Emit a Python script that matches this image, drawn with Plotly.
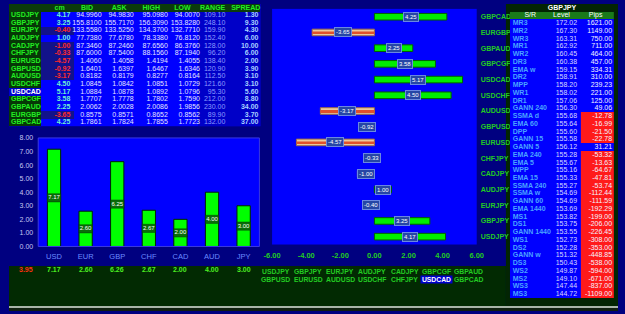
import plotly.graph_objects as go

W, H = 625, 314

# ---------------- data ----------------
symbols = ["USDJPY", "GBPJPY", "EURJPY", "AUDJPY", "CADJPY", "CHFJPY", "EURUSD", "GBPUSD",
           "AUDUSD", "USDCHF", "USDCAD", "GBPCGF", "GBPAUD", "EURGBP", "GBPCAD"]
cm = [4.17, 3.25, -0.40, 1.00, -1.00, -0.33, -4.57, -0.92, -3.17, 4.50, 5.17, 3.58, 2.25, -3.65, 4.25]
bid = [94.9960, 155.8100, 133.5580, 77.7380, 87.3460, 87.6000, 1.4060, 1.6401, 0.8182, 1.0845,
       1.0884, 1.7707, 2.0062, 0.8575, 1.7861]
ask = [94.9830, 155.7170, 133.5250, 77.6780, 87.2460, 87.5400, 1.4058, 1.6397, 0.8179, 1.0842,
       1.0878, 1.7778, 2.0028, 0.8571, 1.7824]
high = [95.0980, 156.3090, 134.3700, 78.3380, 87.6560, 88.1560, 1.4194, 1.6467, 0.8277, 1.0851,
        1.0892, 1.7802, 2.0086, 0.8652, 1.7855]
low = [94.0070, 153.8280, 132.7710, 76.8120, 86.3760, 87.1940, 1.4055, 1.6346, 0.8164, 1.0729,
       1.0796, 1.7590, 1.9856, 0.8562, 1.7723]
rng = [109.10, 248.10, 159.90, 152.40, 128.00, 96.20, 138.40, 120.90, 112.50, 121.60, 95.30,
       212.00, 230.00, 89.90, 132.00]
spread = [1.30, 9.30, 4.30, 6.00, 10.00, 6.00, 2.00, 3.90, 3.10, 3.10, 5.60, 8.80, 34.00, 3.70, 37.00]
table_headers = ["cm", "BID", "ASK", "HIGH", "LOW", "RANGE", "SPREAD"]
selected = "USDCAD"

currencies = ["USD", "EUR", "GBP", "CHF", "CAD", "AUD", "JPY"]
strength = [7.17, 2.60, 6.25, 2.67, 2.00, 4.00, 3.00]
strength_row = [7.17, 2.60, 6.26, 2.67, 2.00, 4.00, 3.00]
strength_total = 3.95
bar_ticks = [0, 1, 2, 3, 4, 5, 6, 7, 8]
bar_ticktext = ["0.00", "1.00", "2.00", "3.00", "4.00", "5.00", "6.00", "7.00", "8.00"]

mid_ticks = [-6, -4, -2, 0, 2, 4, 6]
mid_ticktext = ["-6.00", "-4.00", "-2.00", "0.00", "2.00", "4.00", "6.00"]

footer_row1 = ["USDJPY", "GBPJPY", "EURJPY", "AUDJPY", "CADJPY", "GBPCGF", "GBPAUD"]
footer_row2 = ["GBPUSD", "EURUSD", "AUDUSD", "USDCHF", "CHFJPY", "USDCAD", "GBPCAD"]

sr_symbol = "GBPJPY"
sr_headers = ["S/R", "Level", "Pips"]
sr_names = ["MR3", "MR2", "WR3", "MR1", "WR2", "DR3", "EMA w", "DR2", "MPP", "WR1", "DR1", "GANN 240",
            "SSMA d", "EMA 60", "DPP", "GANN 15", "GANN 5", "EMA 240", "EMA 5", "WPP", "EMA 15",
            "SSMA 240", "SSMA w", "GANN 60", "EMA 1440", "MS1", "DS1", "GANN 1440", "WS1", "DS2",
            "GANN w", "DS3", "WS2", "MS2", "WS3", "MS3"]
sr_levels = [172.02, 167.30, 163.31, 162.92, 160.45, 160.38, 159.15, 158.91, 158.20, 158.02, 157.06,
             156.30, 155.68, 155.64, 155.60, 155.58, 156.12, 155.28, 155.67, 155.16, 155.33, 155.27,
             154.69, 154.69, 153.69, 153.82, 153.75, 153.55, 152.73, 152.28, 151.32, 150.43, 149.87,
             149.10, 147.44, 144.72]
sr_pips = [1621.00, 1149.00, 750.00, 711.00, 464.00, 457.00, 334.31, 310.00, 239.23, 221.00, 125.00,
           49.06, -12.78, -16.99, -21.50, -22.78, 31.21, -53.32, -13.63, -64.67, -47.81, -53.74,
           -112.44, -111.59, -192.29, -199.00, -206.00, -226.45, -308.00, -353.00, -448.85, -538.00,
           -594.00, -671.00, -837.00, -1109.00]

# ---------------- helpers ----------------
FONT = "Liberation Sans, Arial, sans-serif"
NAVY = "#000080"
BLUE = "#0000ff"
FOOT = "#022a02"


def fx(px):
    return px / W


def fy(py):
    return 1 - py / H


def discrete_scale(colors):
    n = len(colors)
    sc = []
    for i, c in enumerate(colors):
        sc.append([i / n, c])
        sc.append([(i + 1) / n, c])
    return sc


fig = go.Figure()

# ---------------- left quote table ----------------
lt_colors = ["#0b3b0b", "#063806", "#0000ff", "#12128a", "#0000c8", "#0000d0"]
lt_edges = [0, 33, 67, 194, 258]
z_left = [[0, 0, 0, 0]]
for s, v in zip(symbols, cm):
    z_left.append([5 if s == selected else 1, 2 if v >= 0 else 3, 2, 4])
rows_idx = list(range(len(symbols) + 1))
fig.add_trace(go.Heatmap(z=z_left, x=lt_edges, y=rows_idx, colorscale=discrete_scale(lt_colors),
                         zmin=-0.5, zmax=len(lt_colors) - 0.5, showscale=False, hoverinfo="skip",
                         xaxis="x3", yaxis="y3"))

data_rows = rows_idx[1:]
hdr_x = [52, 80, 113, 146, 178, 209, 243]
fig.add_trace(go.Scatter(x=hdr_x, y=[0] * len(table_headers), text=table_headers, mode="text",
                         textposition="middle center",
                         textfont=dict(family=FONT, size=7, color="#22ee22", weight="bold"),
                         xaxis="x3", yaxis="y3", hoverinfo="skip", cliponaxis=False))
fig.add_trace(go.Scatter(x=[2] * len(symbols), y=data_rows, text=symbols, mode="text",
                         textposition="middle right",
                         textfont=dict(family=FONT, size=7, weight="bold",
                                       color=["#ffffff" if s == selected else "#22ee22" for s in symbols]),
                         xaxis="x3", yaxis="y3", hoverinfo="skip", cliponaxis=False))
cols = [
    (63, [f"{v:.2f}" for v in cm], ["#70f0d0" if v >= 0 else "#ff2a2a" for v in cm], "bold"),
    (95, [f"{v:.4f}" for v in bid], "#e4e4ff", "normal"),
    (128, [f"{v:.4f}" for v in ask], "#e4e4ff", "normal"),
    (163, [f"{v:.4f}" for v in high], "#e4e4ff", "normal"),
    (196, [f"{v:.4f}" for v in low], "#e4e4ff", "normal"),
    (222, [f"{v:.2f}" for v in rng], "#8c9cff", "normal"),
    (256, [f"{v:.2f}" for v in spread], "#a8d0ff", "bold"),
]
for xr, txt, col, wt in cols:
    fig.add_trace(go.Scatter(x=[xr] * len(txt), y=data_rows, text=txt, mode="text",
                             textposition="middle left",
                             textfont=dict(family=FONT, size=7, color=col, weight=wt),
                             xaxis="x3", yaxis="y3", hoverinfo="skip", cliponaxis=False))

# ---------------- currency strength bars ----------------
BAND = 0.6
fig.add_trace(go.Bar(x=currencies, y=strength, width=0.42,
                     marker=dict(color="#00ff00", line=dict(color="#002200", width=1)),
                     xaxis="x", yaxis="y", hoverinfo="skip"))
fig.add_trace(go.Bar(x=currencies, y=[BAND] * len(strength), base=[v / 2 - BAND / 2 for v in strength],
                     width=0.42, marker=dict(color="#0a6e0a", line=dict(color="#044004", width=0.5)),
                     xaxis="x", yaxis="y", hoverinfo="skip"))
fig.add_trace(go.Scatter(x=currencies, y=[v / 2 for v in strength], text=[f"{v:.2f}" for v in strength],
                         mode="text", textposition="middle center",
                         textfont=dict(family=FONT, size=6, color="#ffffff"),
                         xaxis="x", yaxis="y", hoverinfo="skip"))

# ---------------- pair strength horizontal bars ----------------
fig.add_trace(go.Bar(y=symbols, x=cm, orientation="h", width=0.42,
                     marker=dict(color=["#00ee00" if v >= 0 else "#ecc89a" for v in cm],
                                 line=dict(color=["#006000" if v >= 0 else "#9a6a4a" for v in cm], width=1)),
                     xaxis="x2", yaxis="y2", hoverinfo="skip"))
fig.add_trace(go.Bar(y=symbols, x=[v if v < 0 else None for v in cm], orientation="h", width=0.12,
                     marker=dict(color="#e0502c", line=dict(width=0)),
                     xaxis="x2", yaxis="y2", hoverinfo="skip"))

annotations = []
for s, v in zip(symbols, cm):
    annotations.append(dict(x=v / 2, y=s, xref="x2", yref="y2", text=f"{v:.2f}", showarrow=False,
                            xanchor="center", yanchor="middle",
                            font=dict(family=FONT, size=6, color="#ffffff"),
                            bgcolor="#2646a6", bordercolor="#6a88e0", borderwidth=1, borderpad=1))

# ---------------- S/R table ----------------
sr_colors = ["#032503", "#1a7a1a", "#0000ff", "#ff1a1a"]
sr_edges = [514, 587, 621]
z_sr = [[0, 0], [1, 1]] + [[2, 2 if p >= 0 else 3] for p in sr_pips]
sr_rows = list(range(len(sr_names) + 2))
fig.add_trace(go.Heatmap(z=z_sr, x=sr_edges, y=sr_rows, colorscale=discrete_scale(sr_colors),
                         zmin=-0.5, zmax=len(sr_colors) - 0.5, showscale=False, hoverinfo="skip",
                         xaxis="x4", yaxis="y4"))
fig.add_trace(go.Scatter(x=[567.5], y=[0], text=[sr_symbol], mode="text", textposition="middle center",
                         textfont=dict(family=FONT, size=7, color="#ffffff", weight="bold"),
                         xaxis="x4", yaxis="y4", hoverinfo="skip", cliponaxis=False))
fig.add_trace(go.Scatter(x=[535, 567, 602], y=[1, 1, 1], text=sr_headers, mode="text",
                         textposition="middle center",
                         textfont=dict(family=FONT, size=7, color="#ffffff"),
                         xaxis="x4", yaxis="y4", hoverinfo="skip", cliponaxis=False))
sr_data_rows = sr_rows[2:]
fig.add_trace(go.Scatter(x=[517] * len(sr_names), y=sr_data_rows, text=sr_names, mode="text",
                         textposition="middle right",
                         textfont=dict(family=FONT, size=7, color="#4aa4ff", weight="bold"),
                         xaxis="x4", yaxis="y4", hoverinfo="skip", cliponaxis=False))
fig.add_trace(go.Scatter(x=[583] * len(sr_levels), y=sr_data_rows, text=[f"{v:.2f}" for v in sr_levels],
                         mode="text", textposition="middle left",
                         textfont=dict(family=FONT, size=7, color="#d8d8ff"),
                         xaxis="x4", yaxis="y4", hoverinfo="skip", cliponaxis=False))
fig.add_trace(go.Scatter(x=[619] * len(sr_pips), y=sr_data_rows, text=[f"{v:.2f}" for v in sr_pips],
                         mode="text", textposition="middle left",
                         textfont=dict(family=FONT, size=7, color="#f4f4ff"),
                         xaxis="x4", yaxis="y4", hoverinfo="skip", cliponaxis=False))

# ---------------- footer texts ----------------
annotations.append(dict(x=fx(17), y=fy(272), xref="paper", yref="paper", text=f"{strength_total:.2f}",
                        xanchor="center", yanchor="middle",
                        showarrow=False, font=dict(family=FONT, size=7, color="#ff3010", weight="bold")))
for c, v in zip(currencies, strength_row):
    annotations.append(dict(x=c, y=fy(272), xref="x", yref="paper", text=f"{v:.2f}", showarrow=False,
                            xanchor="center", yanchor="middle",
                            font=dict(family=FONT, size=7, color="#4cee22", weight="bold")))
for r, (row, py) in enumerate([(footer_row1, 273.5), (footer_row2, 282)]):
    for i, s in enumerate(row):
        sel = s == selected
        annotations.append(dict(x=fx(274 + 33 * i), y=fy(py), xref="paper", yref="paper", text=s,
                                xanchor="center", yanchor="middle",
                                showarrow=False, width=31 if sel else None, height=7 if sel else None,
                                bgcolor="#0000cc" if sel else None, borderpad=0,
                                font=dict(family=FONT, size=6.8, weight="bold",
                                          color="#ffffff" if sel else "#22cc22")))

shapes = [
    dict(type="rect", xref="paper", yref="paper", x0=0, x1=fx(510), y0=fy(309), y1=fy(268),
         fillcolor=FOOT, line=dict(width=0), layer="below"),
    dict(type="rect", xref="paper", yref="paper", x0=fx(510), x1=1, y0=fy(309), y1=1,
         fillcolor="#032503", line=dict(width=0), layer="below"),
    dict(type="rect", xref="paper", yref="paper", x0=0, x1=1, y0=fy(311), y1=fy(309),
         fillcolor="#a8b4a8", line=dict(width=0), layer="below"),
    dict(type="rect", xref="paper", yref="paper", x0=0, x1=1, y0=0, y1=fy(311),
         fillcolor="#102010", line=dict(width=0), layer="below"),
    # thin lighter frame around the strength plot
    dict(type="rect", xref="x domain", yref="y domain", x0=0, x1=1, y0=0, y1=1,
         line=dict(color="#3a3ae0", width=1), fillcolor="rgba(0,0,0,0)", layer="above"),
]

hidden = dict(visible=False, fixedrange=True)
fig.update_layout(
    width=W, height=H, margin=dict(l=0, r=0, t=0, b=0),
    paper_bgcolor=NAVY, plot_bgcolor=BLUE, showlegend=False, barmode="overlay",
    font=dict(family=FONT),
    xaxis=dict(domain=[fx(30), fx(257)], anchor="y", showgrid=False, zeroline=False, showline=False,
               ticks="", tickfont=dict(family=FONT, size=7.5, color="#6a8aff"), ticklabelstandoff=4,
               fixedrange=True),
    yaxis=dict(domain=[fy(248), fy(137)], anchor="x", range=[0, 8], tickmode="array", tickvals=bar_ticks,
               ticktext=bar_ticktext, showgrid=False, zeroline=False, ticks="",
               tickfont=dict(family=FONT, size=7, color="#c8c8f0"), ticklabelstandoff=4, fixedrange=True),
    xaxis2=dict(domain=[fx(270), fx(480)], anchor="y2", range=[-6, 6], tickmode="array", tickvals=mid_ticks,
                ticktext=mid_ticktext, showgrid=False, zeroline=False, ticks="",
                tickfont=dict(family=FONT, size=7.5, color="#22cc22", weight="bold"), ticklabelstandoff=5,
                fixedrange=True),
    yaxis2=dict(domain=[fy(246), fy(5)], anchor="x2", side="right", categoryorder="array",
                categoryarray=symbols, range=[-0.5, len(symbols) - 0.5], showgrid=False, zeroline=False,
                ticks="", tickfont=dict(family=FONT, size=7, color="#22cc22", weight="bold"),
                ticklabelstandoff=3, fixedrange=True),
    xaxis3=dict(domain=[0, fx(258)], anchor="y3", range=[0, 258], **hidden),
    yaxis3=dict(domain=[fy(125), 1], anchor="x3", range=[len(symbols) + 0.5, -0.5], **hidden),
    xaxis4=dict(domain=[fx(514), fx(621)], anchor="y4", range=[514, 621], **hidden),
    yaxis4=dict(domain=[fy(301), 1], anchor="x4", range=[len(sr_names) + 1.5, -0.5], **hidden),
    annotations=annotations, shapes=shapes,
)

fig.write_html("out.html")
